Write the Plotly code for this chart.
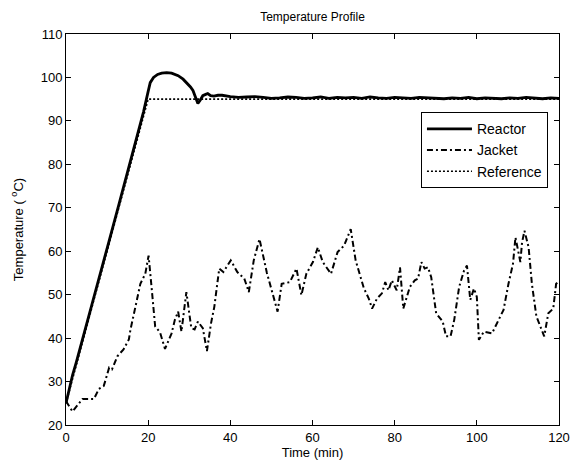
import plotly.graph_objects as go

# ---- data ----
reactor_t = [0, 0.5, 1, 1.6, 2.5, 3.2, 5, 6.4, 8, 10.5, 13, 16, 18.9, 20, 20.5, 21.3, 22.3, 23.3, 24.5, 25.7,
             27.3, 28.5, 29.3, 30.3, 30.9, 31.5, 32.1, 32.7, 33.3, 34, 34.5, 35.2, 36, 37, 38,
             40, 42, 44, 46, 48, 50, 52, 54, 56, 58, 60, 62, 64, 66, 68, 70, 72, 74, 76, 78, 80,
             82, 84, 86, 88, 90, 92, 94, 96, 98, 100, 102, 104, 106, 108, 110, 112, 114, 116, 118, 120]
reactor_v = [25, 27.2, 29.4, 31.5, 34.4, 36.8, 43, 48, 53.6, 62.4, 71.2, 81.8, 92.2, 96.8, 98.8, 100, 100.7, 101, 101.1, 101,
             100.4, 99.6, 98.9, 97.8, 97, 95.5, 94, 94.8, 95.8, 96.1, 96.3, 95.8, 95.7, 95.9, 95.9,
             95.6, 95.4, 95.5, 95.6, 95.4, 95.2, 95.3, 95.5, 95.4, 95.2, 95.3, 95.5, 95.2, 95.4, 95.3, 95.4,
             95.2, 95.5, 95.3, 95.2, 95.4, 95.3, 95.2, 95.4, 95.3, 95.2, 95.1, 95.3, 95.2, 95.4, 95.1,
             95.3, 95.2, 95.1, 95.3, 95.2, 95.4, 95.2, 95.1, 95.3, 95.2]

jacket_t = [0, 1.6, 4.0, 6.8, 8.0, 9.2, 10.5, 11.2, 12.5, 14.0, 15.3, 15.7, 16.9, 18.1, 19.3, 20.1, 20.9, 21.7,
            22.9, 24.1, 25.7, 26.5, 27.3, 28.1, 29.3, 30.5, 31.3, 32.1, 33.3, 34.3, 35.3, 36.1, 37.3, 38.3,
            40.1, 41.7, 43.4, 44.5, 45.7, 47.1, 48.9, 50.1, 51.5, 52.5, 54.5, 56.1, 57.3, 58.5, 60.1, 61.3,
            62.5, 64.5, 66.1, 67.7, 69.3, 70.5, 72.5, 73.7, 74.5, 75.7, 76.9, 77.7, 78.5, 79.3, 80.5, 81.3,
            82.1, 83.7, 84.9, 85.7, 86.5, 87.3, 88.1, 88.9, 90.1, 91.7, 92.5, 93.6, 94.5, 95.7, 96.9, 97.6,
            98.4, 99.3, 100.0, 100.5, 101.7, 103.7, 104.9, 106.5, 107.7, 108.8, 109.4, 110.2, 110.6, 111.0,
            111.6, 112.6, 113.4, 114.5, 115.7, 116.4, 117.4, 118.6, 119.3, 120]
jacket_v = [25.5, 23.1, 26.0, 26.0, 28.3, 29.0, 33.2, 32.8, 35.8, 37.4, 39.7, 42.0, 47.2, 52.5, 54.8, 59.0, 51.0, 42.7,
            41.3, 37.5, 41.1, 44.2, 46.1, 41.5, 50.6, 42.3, 42.0, 43.8, 42.3, 37.0, 43.4, 47.2, 56.0, 55.2,
            57.9, 55.2, 53.7, 50.6, 57.9, 62.8, 55.0, 51.0, 46.1, 52.5, 52.9, 56.0, 49.9, 54.8, 57.5, 60.9,
            57.5, 54.8, 59.8, 61.3, 65.1, 57.9, 51.5, 49.1, 46.8, 49.1, 50.3, 52.9, 51.0, 53.3, 51.0, 56.3,
            46.8, 51.8, 53.3, 53.7, 57.5, 56.0, 56.3, 54.0, 45.7, 43.8, 40.4, 40.4, 44.2, 51.8, 55.6, 56.7,
            48.8, 51.4, 49.5, 39.6, 41.5, 41.1, 43.4, 46.5, 52.5, 57.1, 63.2, 59.0, 57.5, 62.0,
            64.7, 60.9, 52.5, 45.0, 42.3, 40.4, 45.7, 46.8, 52.5, 53.0]

reference_t = [0, 20, 120]
reference_v = [25, 95, 95]

x_ticks = [0, 20, 40, 60, 80, 100, 120]
y_ticks = [20, 30, 40, 50, 60, 70, 80, 90, 100, 110]

FONT = "Liberation Sans, Arial, sans-serif"

fig = go.Figure()
fig.add_trace(go.Scatter(x=reactor_t, y=reactor_v, mode="lines", name="Reactor",
                         line=dict(color="black", width=2.8)))
fig.add_trace(go.Scatter(x=jacket_t, y=jacket_v, mode="lines", name="Jacket",
                         line=dict(color="black", width=2, dash="6px,3px,2px,3px")))
fig.add_trace(go.Scatter(x=reference_t, y=reference_v, mode="lines", name="Reference",
                         line=dict(color="black", width=1.6, dash="2px,2px")))

fig.update_layout(
    width=582, height=468,
    margin=dict(l=66, r=16, t=34, b=39),
    paper_bgcolor="white", plot_bgcolor="white",
    font=dict(family=FONT, size=13, color="black"),
    title=dict(text="Temperature Profile", x=0.5, xref="paper", y=0.965, yanchor="middle",
               font=dict(size=12, family=FONT)),
    legend=dict(x=0.72, y=0.80, xanchor="left", yanchor="top", bgcolor="white",
                bordercolor="black", borderwidth=1, font=dict(size=14, family=FONT),
                tracegroupgap=0, itemwidth=45),
    showlegend=True,
)
fig.update_xaxes(range=[0, 120], tickvals=x_ticks, ticks="inside", ticklen=5, tickcolor="black",
                 showline=True, linecolor="black", linewidth=1, mirror="ticks", showgrid=False,
                 zeroline=False, title=dict(text="Time (min)", standoff=2, font=dict(size=13)),
                 tickfont=dict(size=13))
fig.update_yaxes(range=[20, 110], tickvals=y_ticks, ticks="inside", ticklen=5, tickcolor="black",
                 showline=True, linecolor="black", linewidth=1, mirror="ticks", showgrid=False,
                 zeroline=False, title=dict(text="Temperature ( <sup>o</sup>C)", standoff=14,
                                            font=dict(size=13)),
                 tickfont=dict(size=13))

fig.write_html("out.html")
